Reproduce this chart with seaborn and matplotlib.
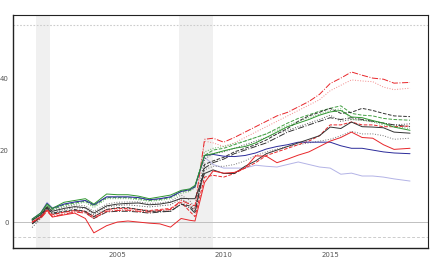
import numpy as np
import pandas as pd
import matplotlib
matplotlib.use("Agg")
import matplotlib.pyplot as plt
import seaborn as sns

years = [2001.0, 2001.4, 2001.7, 2001.95, 2002.5, 2003.0, 2003.5, 2003.9, 2004.5, 2005.0,
         2005.5, 2006.0, 2006.5, 2007.0, 2007.5, 2008.0, 2008.4, 2008.65, 2009.1, 2009.5,
         2010.0, 2010.5, 2011.0, 2011.5, 2012.0, 2012.5, 2013.0, 2013.5, 2014.0, 2014.5,
         2015.0, 2015.5, 2016.0, 2016.5, 2017.0, 2017.5, 2018.0, 2018.75]

green_solid = [0.8, 2.5, 5.0, 3.8, 5.5, 6.0, 6.5, 5.0, 7.8, 7.6, 7.6, 7.2, 6.5, 7.0, 7.5, 8.8, 9.2, 10.2, 18.5, 19.0,
               19.8, 20.5, 21.0, 22.0, 23.5, 25.0, 26.5, 27.5, 28.5, 29.7, 30.6, 31.0, 29.2, 29.0, 28.2, 27.5, 26.4, 25.5]
blue_solid = [0.8, 2.5, 5.2, 3.8, 5.0, 5.6, 6.0, 4.8, 7.0, 7.0, 7.0, 6.8, 6.2, 6.5, 7.0, 8.5, 9.0, 9.8, 18.5, 18.8,
              18.3, 18.2, 18.5, 19.2, 20.3, 21.0, 21.5, 22.2, 22.2, 22.2, 22.2, 21.2, 20.5, 20.5, 20.0, 19.5, 19.2, 19.0]
lavender_solid = [0.8, 2.5, 5.5, 4.0, 5.0, 5.5, 6.0, 4.8, 7.0, 7.0, 7.0, 6.8, 6.2, 6.5, 7.0, 8.8, 9.2, 10.0, 18.0, 16.0,
                  15.0, 15.0, 15.0, 15.8, 15.5, 15.3, 16.0, 16.7, 16.0, 15.3, 15.0, 13.3, 13.6, 12.8, 12.8, 12.5, 12.0, 11.4]
red_solid = [0.0, 1.5, 3.3, 1.4, 2.0, 2.5, 1.0, -3.0, -1.0, 0.0, 0.3, 0.0, -0.3, -0.5, -1.4, 1.0, 0.5, 0.3, 11.0, 14.2,
             13.6, 13.8, 15.0, 18.4, 18.3, 16.5, 17.5, 18.6, 19.5, 21.0, 22.5, 23.5, 25.0, 23.5, 23.3, 21.5, 20.2, 20.5]
black_solid = [0.5, 2.0, 4.2, 3.0, 3.8, 4.3, 4.0, 2.5, 4.5, 5.0, 5.2, 5.3, 4.8, 5.0, 5.5, 6.6, 6.5, 6.5, 13.5, 14.5,
               13.5, 13.5, 15.5, 17.0, 19.0, 20.0, 21.0, 22.0, 23.0, 24.0, 26.4, 26.0, 27.8, 26.5, 26.4, 26.2, 25.0, 24.7]
black_dashed = [-0.5, 1.5, 4.0, 2.5, 3.0, 3.5, 3.0, 1.5, 3.5, 4.0, 4.0, 3.5, 3.0, 3.0, 3.0, 5.0, 4.5, 3.0, 16.0, 17.0,
                18.0, 19.5, 20.5, 21.5, 22.8, 24.5, 26.0, 28.0, 29.5, 30.5, 31.6, 30.2, 30.5, 31.6, 31.0, 30.2, 29.5, 29.3]
green_dashed = [0.5, 2.2, 4.5, 3.5, 4.8, 5.3, 5.8, 4.5, 6.8, 6.8, 6.8, 6.5, 6.0, 6.3, 6.8, 8.5, 8.8, 9.8, 18.5, 20.0,
                20.5, 21.5, 22.5, 23.5, 24.5, 26.0, 27.5, 28.8, 29.8, 30.8, 31.6, 32.3, 30.2, 29.7, 29.5, 28.8, 28.5, 28.3]
green_dotted = [0.5, 2.2, 4.5, 3.5, 4.5, 5.0, 5.5, 4.0, 6.5, 6.5, 6.5, 6.2, 5.8, 6.0, 6.5, 8.0, 8.5, 9.5, 19.5, 20.5,
                21.0, 21.8, 22.5, 23.5, 24.5, 25.5, 26.8, 28.0, 29.0, 30.0, 31.0, 31.5, 28.5, 28.3, 27.8, 27.0, 26.5, 26.0]
red_dashdot = [0.0, 1.0, 3.0, 1.5, 2.2, 2.8, 2.5, 1.0, 3.0, 3.2, 3.3, 3.0, 2.8, 3.2, 3.5, 6.0, 5.0, 4.5, 23.0, 23.3,
               22.2, 23.5, 25.0, 26.5, 28.0, 29.5, 30.5, 32.0, 33.5, 35.5, 38.5, 40.0, 41.7, 40.8, 40.0, 39.7, 38.6, 38.8]
red_dotted = [0.0, 1.0, 3.2, 1.8, 2.5, 3.0, 2.8, 1.2, 3.2, 3.5, 3.5, 3.2, 3.0, 3.3, 3.5, 5.5, 4.5, 3.5, 22.5, 22.0,
              21.0, 22.0, 23.5, 25.0, 26.5, 28.0, 29.5, 31.0, 32.5, 34.0, 36.5, 38.0, 39.5, 39.2, 39.0, 37.5, 36.8, 37.2]
red_dashed = [0.0, 1.2, 3.5, 2.0, 2.8, 3.2, 3.0, 1.5, 3.5, 3.8, 3.8, 3.5, 3.2, 3.5, 3.8, 5.5, 3.0, 1.5, 12.5, 13.0,
              12.5, 13.5, 15.0, 16.5, 18.5, 19.5, 20.5, 21.5, 22.5, 24.0, 27.0, 27.0, 27.8, 27.0, 27.0, 26.5, 26.5, 26.7]
gray_dotted_low = [0.0, 1.8, 4.5, 3.2, 4.2, 4.8, 4.5, 3.0, 5.0, 5.5, 5.6, 5.6, 5.2, 5.3, 5.8, 7.5, 6.0, 4.0, 14.5, 15.5,
                   15.5, 16.0, 17.0, 18.5, 19.5, 20.3, 21.0, 21.5, 22.0, 22.5, 23.0, 24.0, 25.2, 24.5, 24.5, 24.0, 23.0, 23.3]
gray_dotted_high = [-1.5, 1.0, 3.8, 2.5, 3.5, 4.0, 3.8, 2.0, 4.2, 4.6, 4.8, 4.5, 4.2, 4.5, 4.8, 6.5, 5.0, 3.5, 17.5, 19.0,
                    19.5, 20.5, 21.5, 22.5, 23.5, 24.5, 25.5, 26.5, 27.5, 28.5, 29.7, 28.0, 28.5, 28.3, 28.0, 27.5, 27.0, 27.3]
black_dashdot = [-0.5, 1.2, 3.8, 2.2, 2.8, 3.2, 2.8, 1.0, 2.8, 3.0, 3.0, 2.8, 2.5, 2.8, 3.0, 5.0, 4.0, 2.5, 15.0, 16.5,
                 17.5, 19.0, 20.0, 21.0, 22.0, 23.5, 25.0, 26.0, 27.0, 28.0, 29.0, 28.5, 29.0, 28.5, 28.0, 27.5, 27.0, 26.5]

recessions = [(2001.17, 2001.83), (2007.92, 2009.5)]
ref_top = 54.7
ref_bottom = -4.2
x_ticks = [2005, 2010, 2015]
y_ticks = [0, 20, 40]

series = [
    ("lavender_solid", lavender_solid, "#b3b3e6", "-"),
    ("gray_dotted_low", gray_dotted_low, "#777777", ":"),
    ("gray_dotted_high", gray_dotted_high, "#555555", ":"),
    ("black_dashdot", black_dashdot, "#333333", "-."),
    ("red_dashed", red_dashed, "#e8262a", "--"),
    ("red_dotted", red_dotted, "#f28a8a", ":"),
    ("red_dashdot", red_dashdot, "#e8262a", "-."),
    ("green_dotted", green_dotted, "#66b366", ":"),
    ("green_dashed", green_dashed, "#44a044", "--"),
    ("black_dashed", black_dashed, "#333333", "--"),
    ("blue_solid", blue_solid, "#2b2b9a", "-"),
    ("black_solid", black_solid, "#333333", "-"),
    ("green_solid", green_solid, "#2f962f", "-"),
    ("red_solid", red_solid, "#e8262a", "-"),
]

sns.set_theme(style="white")
plt.rcParams['font.family'] = ['DejaVu Sans']

fig = plt.figure(figsize=(4.32, 2.7), dpi=100)
ax = fig.add_axes([0.030, 0.0815, 0.961, 0.8625])

for a, b in recessions:
    ax.axvspan(a, b, color="#f0f0f0", lw=0, zorder=0)
ax.axhline(0, color="#c0c0c0", lw=0.7, zorder=1)
ax.axhline(ref_top, color="#cccccc", lw=0.8, ls=(0, (1.5, 1.5)), zorder=1)
ax.axhline(ref_bottom, color="#cccccc", lw=0.7, ls=(0, (3, 2)), zorder=1)

for name, vals, col, ls in series:
    df = pd.DataFrame({"year": years, "value": vals})
    sns.lineplot(data=df, x="year", y="value", ax=ax, color=col, linestyle=ls,
                 linewidth=0.7, zorder=3)

ax.set_xlim(2000.1, 2019.6)
ax.set_ylim(-7.2, 57.5)
ax.set_xticks(x_ticks)
ax.set_yticks(y_ticks)
ax.set_xlabel("")
ax.set_ylabel("")
ax.tick_params(axis="both", labelsize=5, colors="#555555", length=2, width=0.6, pad=1)
ax.tick_params(axis="both", color="#333333")
for s in ax.spines.values():
    s.set_color("#222222")
    s.set_linewidth(0.8)
ax.spines["left"].set_linewidth(1.0)
ax.spines["bottom"].set_linewidth(1.0)
ax.grid(False)

fig.savefig("out.png", dpi=100)
